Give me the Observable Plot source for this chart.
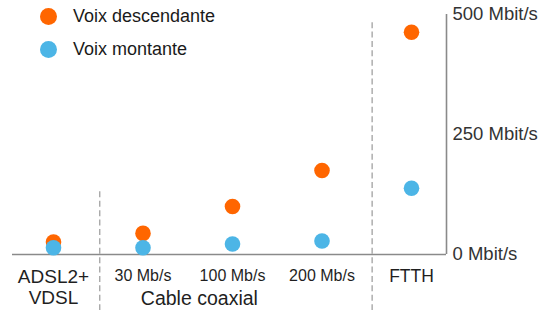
<!DOCTYPE html>
<html>
<head>
<meta charset="utf-8">
<script src="https://cdn.jsdelivr.net/npm/d3@7"></script>
<script src="https://cdn.jsdelivr.net/npm/@observablehq/plot@0.6"></script>
<style>
  body { margin: 0; background: #fff; font-family: "Liberation Sans", Arial, Helvetica, sans-serif; }
  #wrap { position: relative; width: 543px; height: 310px; }
  .legend { position: absolute; left: 40px; top: 0; font-size: 18px; color: #1a1a1a; }
  .legend .row { position: absolute; white-space: nowrap; display: flex; align-items: center; }
  .legend .sw { width: 17px; height: 17px; border-radius: 50%; display: inline-block; margin-right: 16px; }
</style>
</head>
<body>
<div id="wrap"></div>
<script>
// ---- data ----
const categories = ["ADSL2+\nVDSL", "30 Mb/s", "100 Mb/s", "200 Mb/s", "FTTH"];
const categorySizes = [19, 16, 16, 16, 17.5];
const descendante = [26, 44, 100, 175, 463];   // Voix descendante (Mbit/s)
const montante = [14, 14, 22, 28, 138];        // Voix montante (Mbit/s)
const seriesNames = ["Voix descendante", "Voix montante"];
const seriesColors = ["#ff6600", "#4cb5e6"];
const yTicks = [0, 250, 500];
const groupLabel = "Cable coaxial";
const groupPos = 1.63;
const separatorPos = [0.517, 3.56];
const separatorTop = [132, 483];
const separatorBottom = -117;
const xDomain = [-0.458, 4.391];
const yDomain = [0, 500];

// ---- build tables ----
const points = [];
categories.forEach((c, i) => points.push({i, v: descendante[i], s: seriesNames[0]}));
categories.forEach((c, i) => points.push({i, v: montante[i], s: seriesNames[1]}));
const catRows = categories.map((c, i) => ({i, label: c, size: categorySizes[i]}));
const seps = separatorPos.map((x, k) => ({x, y1: separatorBottom, y2: separatorTop[k]}));

const font = `"Liberation Sans", Arial, Helvetica, sans-serif`;

const chart = Plot.plot({
  width: 543,
  height: 310,
  marginLeft: 12,
  marginRight: 97,
  marginTop: 14,
  marginBottom: 56,
  style: {fontFamily: font, background: "transparent", overflow: "visible"},
  x: {type: "linear", domain: xDomain, axis: null},
  y: {domain: yDomain, axis: null},
  color: {domain: seriesNames, range: seriesColors},
  marks: [
    Plot.ruleX(seps, {x: "x", y1: "y1", y2: "y2", stroke: "#9a9a9a", strokeWidth: 1.2, strokeDasharray: "6,3.4"}),
    Plot.ruleY([0], {stroke: "#8a8a8a", strokeWidth: 1.6}),
    Plot.ruleX([xDomain[1]], {y1: yDomain[0], y2: yDomain[1], stroke: "#8a8a8a", strokeWidth: 1.6}),
    Plot.axisY({anchor: "right", ticks: yTicks, tickSize: 0, tickPadding: 6, tickFormat: d => `${d} Mbit/s`, fontSize: 18.5, label: null, color: "#333", fill: "#333"}),
    Plot.dot(points, {x: "i", y: "v", fill: "s", r: 7.8, stroke: "none"}),
    ...catRows.map(d => Plot.text([d], {x: "i", y: () => 0, text: "label", dy: 13.5, lineAnchor: "top", lineHeight: 1.1, fontSize: d.size, fill: "#1f1f1f"})),
    Plot.text([groupLabel], {x: () => groupPos, y: () => 0, text: d => d, dy: 36.5, lineAnchor: "top", fontSize: 19.5, fill: "#1f1f1f"})
  ]
});

const wrap = document.getElementById("wrap");
wrap.appendChild(chart);

const legend = document.createElement("div");
legend.className = "legend";
seriesNames.forEach((name, k) => {
  const row = document.createElement("div");
  row.className = "row";
  row.style.top = (k === 0 ? 6 : 39) + "px";
  row.innerHTML = `<span class="sw" style="background:${seriesColors[k]}"></span><span>${name}</span>`;
  legend.appendChild(row);
});
wrap.appendChild(legend);
</script>
</body>
</html>
